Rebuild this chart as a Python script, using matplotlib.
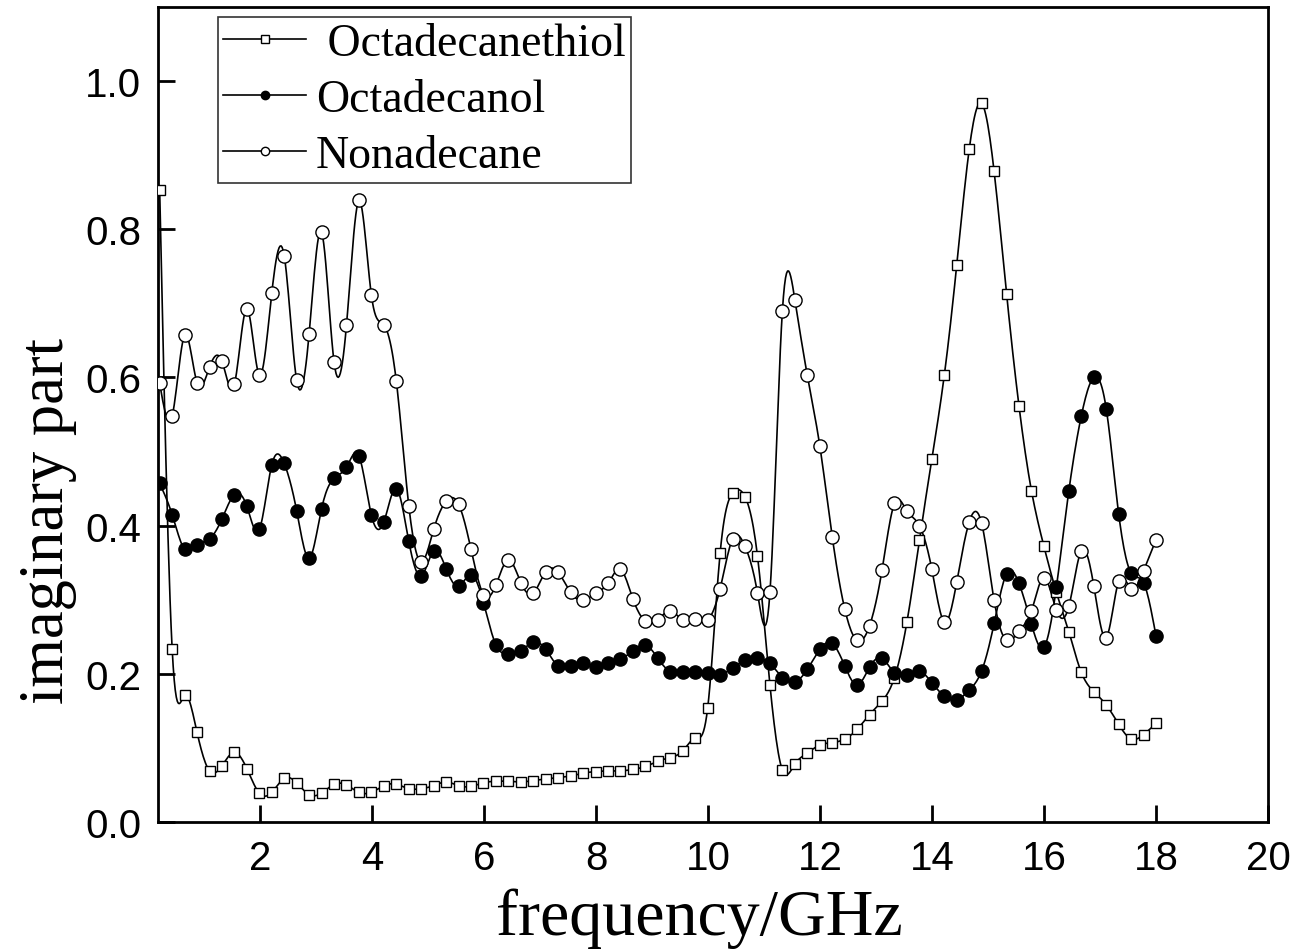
import numpy as np
import matplotlib
matplotlib.use("Agg")
import matplotlib.pyplot as plt
from matplotlib.lines import Line2D

# ---------------- data ----------------
freq = np.linspace(0.2, 18.0, 81)  # uniformly sampled frequency grid, GHz

octadecanethiol = [
    0.853, 0.234, 0.171, 0.121, 0.069, 0.076, 0.094, 0.072, 0.039, 0.040,
    0.059, 0.053, 0.037, 0.039, 0.051, 0.050, 0.040, 0.040, 0.049, 0.051,
    0.045, 0.045, 0.049, 0.054, 0.049, 0.048, 0.053, 0.055, 0.055, 0.054,
    0.056, 0.058, 0.060, 0.062, 0.066, 0.068, 0.069, 0.069, 0.071, 0.075,
    0.082, 0.087, 0.096, 0.113, 0.154, 0.363, 0.444, 0.439, 0.359, 0.185,
    0.070, 0.078, 0.093, 0.104, 0.107, 0.112, 0.125, 0.145, 0.163, 0.195,
    0.270, 0.380, 0.490, 0.603, 0.752, 0.908, 0.970, 0.878, 0.713, 0.561,
    0.447, 0.372, 0.310, 0.257, 0.202, 0.176, 0.158, 0.132, 0.112, 0.118,
    0.133]

octadecanol = [
    0.457, 0.415, 0.368, 0.374, 0.382, 0.409, 0.442, 0.426, 0.395, 0.482,
    0.484, 0.420, 0.356, 0.423, 0.464, 0.479, 0.494, 0.414, 0.405, 0.450,
    0.379, 0.332, 0.366, 0.342, 0.318, 0.334, 0.296, 0.239, 0.227, 0.231,
    0.243, 0.233, 0.210, 0.210, 0.215, 0.209, 0.214, 0.220, 0.231, 0.239,
    0.221, 0.203, 0.203, 0.203, 0.201, 0.199, 0.208, 0.218, 0.221, 0.214,
    0.195, 0.189, 0.206, 0.233, 0.241, 0.211, 0.185, 0.209, 0.221, 0.201,
    0.199, 0.204, 0.188, 0.170, 0.165, 0.178, 0.204, 0.268, 0.335, 0.322,
    0.267, 0.236, 0.317, 0.447, 0.548, 0.600, 0.558, 0.416, 0.336, 0.323,
    0.251]

nonadecane = [
    0.592, 0.548, 0.657, 0.593, 0.614, 0.622, 0.591, 0.693, 0.603, 0.714,
    0.764, 0.596, 0.659, 0.796, 0.621, 0.671, 0.839, 0.711, 0.671, 0.595,
    0.427, 0.351, 0.395, 0.433, 0.429, 0.368, 0.307, 0.320, 0.354, 0.323,
    0.309, 0.338, 0.337, 0.310, 0.299, 0.309, 0.322, 0.341, 0.301, 0.271,
    0.273, 0.285, 0.273, 0.274, 0.273, 0.315, 0.382, 0.372, 0.309, 0.310,
    0.690, 0.705, 0.603, 0.508, 0.385, 0.288, 0.245, 0.265, 0.340, 0.430,
    0.420, 0.400, 0.341, 0.270, 0.324, 0.405, 0.403, 0.299, 0.245, 0.258,
    0.285, 0.330, 0.286, 0.291, 0.366, 0.319, 0.249, 0.325, 0.315, 0.339,
    0.381]

series_names = [" Octadecanethiol", "Octadecanol", "Nonadecane"]
x_ticks = [2, 4, 6, 8, 10, 12, 14, 16, 18, 20]
y_ticks = [0.0, 0.2, 0.4, 0.6, 0.8, 1.0]


# ---------------- smooth connecting line (like Origin "spline" connect) -----
def spline_curve(x, y, per=12):
    x = np.asarray(x, float)
    y = np.asarray(y, float)
    n = len(x)
    h = np.diff(x)
    A = np.zeros((n, n))
    r = np.zeros(n)
    A[0, 0] = 1.0
    A[-1, -1] = 1.0
    for i in range(1, n - 1):
        A[i, i - 1] = h[i - 1]
        A[i, i] = 2 * (h[i - 1] + h[i])
        A[i, i + 1] = h[i]
        r[i] = 6 * ((y[i + 1] - y[i]) / h[i] - (y[i] - y[i - 1]) / h[i - 1])
    M = np.linalg.solve(A, r)
    xs, ys = [], []
    for i in range(n - 1):
        t = np.linspace(x[i], x[i + 1], per, endpoint=False)
        a = x[i + 1] - t
        b = t - x[i]
        s = (M[i] * a ** 3 + M[i + 1] * b ** 3) / (6 * h[i]) \
            + (y[i] / h[i] - M[i] * h[i] / 6) * a \
            + (y[i + 1] / h[i] - M[i + 1] * h[i] / 6) * b
        xs.append(t)
        ys.append(s)
    xs.append([x[-1]])
    ys.append([y[-1]])
    return np.concatenate(xs), np.concatenate(ys)


# ---------------- figure ----------------
fig = plt.figure(figsize=(13.08, 9.53), dpi=100)
ax = fig.add_axes([0.1208, 0.1364, 0.8486, 0.8552])

styles = [
    dict(marker="s", mfc="white", mec="black", ms=7.8),
    dict(marker="o", mfc="black", mec="black", ms=9.5),
    dict(marker="o", mfc="white", mec="black", ms=9.5),
]
data = [octadecanethiol, octadecanol, nonadecane]

for vals, st in zip(data, styles):
    cx, cy = spline_curve(freq, vals)
    ax.plot(cx, cy, color="black", lw=1.2, zorder=2)
for vals, st in zip(data, styles):
    ax.plot(freq, vals, linestyle="none", mew=1.0, zorder=3, **st)

ax.set_xlim(0.17, 20)
ax.set_ylim(0, 1.1)
ax.set_xticks(x_ticks)
ax.set_xticklabels([str(t) for t in x_ticks])
ax.set_yticks(y_ticks)
ax.set_yticklabels([f"{t:.1f}" for t in y_ticks])

for sp in ax.spines.values():
    sp.set_linewidth(2.0)
ax.tick_params(direction="in", length=12, width=2.0, labelsize=29, pad=12)
for lab in ax.get_xticklabels() + ax.get_yticklabels():
    lab.set_fontfamily("Liberation Sans")

ax.set_xlabel("frequency/GHz", fontsize=47.5, family="Liberation Serif", labelpad=8)
ax.set_ylabel("imaginary part", fontsize=45, family="Liberation Serif", labelpad=6)
ax.xaxis.label.set_x(0.488)
ax.yaxis.label.set_y(0.37)

handles = [
    Line2D([], [], color="black", lw=1.2, marker="s", mfc="white", mec="black", ms=6),
    Line2D([], [], color="black", lw=1.2, marker="o", mfc="black", mec="black", ms=6),
    Line2D([], [], color="black", lw=1.2, marker="o", mfc="white", mec="black", ms=6),
]
leg = ax.legend(handles, series_names, loc="upper left",
                bbox_to_anchor=(0.054, 0.988), borderaxespad=0,
                prop={"family": "Liberation Serif", "size": 33},
                frameon=True, fancybox=False, handlelength=1.8,
                handletextpad=0.22, labelspacing=0.3, borderpad=0.12)
leg.get_frame().set_edgecolor("black")
leg.get_frame().set_linewidth(1.2)

fig.savefig("out.png", dpi=100)
